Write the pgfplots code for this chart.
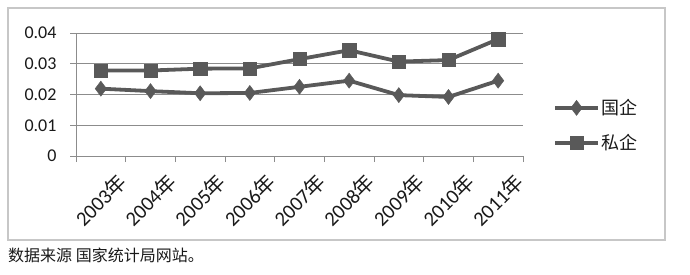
\documentclass[border=0pt]{standalone}
\usepackage{fontspec}
\setmainfont{Carlito}
\newfontfamily\cjk{Noto Sans CJK SC}
\usepackage{pgfplots}
\pgfplotsset{compat=1.18}
\definecolor{ln}{HTML}{595959}
\definecolor{gr}{HTML}{8C8C8C}
\begin{document}
\begin{tikzpicture}
\path[use as bounding box] (0pt,0pt) rectangle (690pt,274pt);
\draw[line width=1.2pt, color=black!22] (8pt,34pt) rectangle (665pt,266pt);
\node[anchor=west, inner sep=0pt, font=\cjk\fontsize{16}{18}\selectfont, text=black!90] at (8pt,19pt) {数据来源 国家统计局网站。};
\begin{axis}[
  at={(76pt,118pt)}, anchor=south west,
  scale only axis, width=447pt, height=123pt,
  xmin=-0.5, xmax=8.5, ymin=0, ymax=0.04,
  axis x line=bottom, axis y line=left,
  axis line style={-, gr, line width=0.9pt},
  xtick={0,...,8},
  xticklabels={2003{\cjk 年},2004{\cjk 年},2005{\cjk 年},2006{\cjk 年},2007{\cjk 年},2008{\cjk 年},2009{\cjk 年},2010{\cjk 年},2011{\cjk 年}},
  major x tick style={draw=none},
  minor xtick={-0.5,0.5,...,8.5},
  minor x tick style={gr, line width=0.9pt},
  minor tick length=6pt,
  tick align=outside,
  ytick={0,0.01,0.02,0.03,0.04},
  yticklabels={0,0.01,0.02,0.03,0.04},
  scaled y ticks=false,
  major y tick style={gr, line width=0.9pt},
  major tick length=6pt,
  ymajorgrids, grid style={gr, line width=0.9pt},
  /pgf/number format/assume math mode=true,
  tick label style={font=\fontsize{18}{21}\selectfont, color=black!90},
  xticklabel style={font=\fontsize{20.5}{23}\selectfont, rotate=45, anchor=north east, inner sep=0pt, xshift=4pt, yshift=-17pt},
  yticklabel style={xshift=-10pt},
  legend style={at={(1.067,0.25)}, anchor=west, draw=none, fill=none, font=\cjk\fontsize{18}{21}\selectfont, row sep=14pt, inner sep=0pt, text=black!90},
  legend cell align=left,
  legend image code/.code={\draw[#1, mark repeat=2, mark phase=2] plot coordinates {(0pt,0pt) (21.5pt,0pt) (43pt,0pt)};},
  clip=false,
]
\addplot[ln, line width=3.8pt, mark=diamond*, mark size=7.5pt, mark options={solid, line width=0.5pt, fill=ln}] coordinates {
(0,0.0219) (1,0.0211) (2,0.0204) (3,0.0205) (4,0.0225) (5,0.0245) (6,0.0198) (7,0.0192) (8,0.0245)};
\addlegendentry{国企}
\addplot[ln, line width=3.8pt, mark=square*, mark size=6.6pt, mark options={solid, line width=0.5pt, fill=ln}] coordinates {
(0,0.0278) (1,0.0278) (2,0.0284) (3,0.0285) (4,0.0315) (5,0.0344) (6,0.0307) (7,0.0312) (8,0.0380)};
\addlegendentry{私企}
\end{axis}
\end{tikzpicture}
\end{document}
